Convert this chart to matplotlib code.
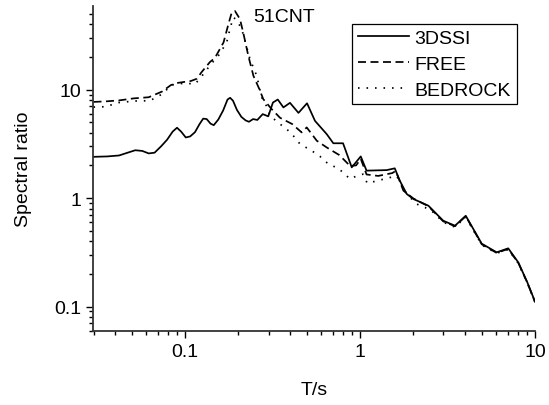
import matplotlib
matplotlib.use("Agg")
import matplotlib.pyplot as plt
from matplotlib.ticker import LogLocator, FixedLocator, FixedFormatter, NullFormatter

plt.rcParams['font.family'] = ['Liberation Sans', 'DejaVu Sans']

# spectral ratio for site 51CNT
T_ssi = [0.030, 0.036, 0.042, 0.047, 0.052, 0.057, 0.062, 0.067, 0.073, 0.079,
         0.085, 0.090, 0.095, 0.101, 0.107, 0.114, 0.121, 0.127, 0.133, 0.140,
         0.146, 0.155, 0.165, 0.175, 0.181, 0.188, 0.198, 0.210, 0.222, 0.232,
         0.245, 0.259, 0.278, 0.299, 0.318, 0.339, 0.365, 0.398, 0.445, 0.498,
         0.553, 0.645, 0.704, 0.800, 0.897, 1.01, 1.09, 1.42, 1.58, 1.69,
         1.85, 2.02, 2.46, 2.99, 3.49, 4.02, 4.96, 6.04, 7.03, 8.03,
         9.04, 10.0]
R_ssi = [2.40, 2.42, 2.47, 2.62, 2.76, 2.72, 2.58, 2.62, 3.00, 3.45,
         4.10, 4.45, 4.10, 3.62, 3.70, 4.05, 4.80, 5.40, 5.35, 4.85,
         4.70, 5.30, 6.40, 8.10, 8.40, 7.90, 6.50, 5.60, 5.20, 5.05,
         5.35, 5.25, 5.94, 5.67, 7.60, 8.10, 6.85, 7.55, 6.10, 7.48,
         5.15, 3.89, 3.20, 3.20, 1.92, 2.42, 1.79, 1.81, 1.88, 1.44,
         1.09, 0.98, 0.85, 0.618, 0.556, 0.687, 0.380, 0.316, 0.344, 0.255,
         0.167, 0.111]

T_free = [0.030, 0.035, 0.042, 0.051, 0.062, 0.074, 0.083, 0.090, 0.100, 0.108,
          0.117, 0.124, 0.139, 0.148, 0.166, 0.177, 0.185, 0.193, 0.206, 0.215,
          0.230, 0.246, 0.266, 0.280, 0.313, 0.349, 0.410, 0.464, 0.496, 0.530,
          0.566, 0.645, 0.762, 0.877, 0.950, 1.01, 1.09, 1.27, 1.53, 1.60,
          1.77, 2.02, 2.46, 2.99, 3.49, 4.02, 4.96, 6.04, 7.03, 8.03,
          9.04, 10.0]
R_free = [7.70, 7.78, 7.95, 8.30, 8.50, 9.60, 11.0, 11.5, 11.8, 12.0,
          12.6, 14.4, 18.0, 19.5, 27.2, 40.1, 51.5, 53.0, 44.7, 33.7,
          20.5, 13.4, 10.1, 8.17, 6.60, 5.50, 4.81, 4.03, 4.48, 3.89,
          3.38, 2.93, 2.49, 1.98, 2.00, 2.30, 1.65, 1.60, 1.70, 1.78,
          1.17, 0.99, 0.84, 0.61, 0.55, 0.68, 0.375, 0.312, 0.340, 0.252,
          0.166, 0.110]

T_rock = [0.030, 0.035, 0.042, 0.052, 0.063, 0.075, 0.083, 0.100, 0.114, 0.126,
          0.140, 0.155, 0.173, 0.182, 0.189, 0.197, 0.211, 0.235, 0.257, 0.274,
          0.293, 0.306, 0.349, 0.381, 0.416, 0.454, 0.530, 0.591, 0.659, 0.752,
          0.877, 0.957, 1.04, 1.10, 1.25, 1.42, 1.62, 1.69, 1.85, 2.11,
          2.35, 2.62, 2.99, 3.34, 3.49, 4.02, 4.96, 6.04, 7.03, 8.03,
          9.04, 10.0]
R_rock = [6.90, 6.95, 7.60, 7.85, 7.90, 9.20, 11.0, 11.5, 11.2, 13.6,
          17.0, 20.5, 27.2, 38.0, 46.3, 44.0, 36.1, 19.1, 13.4, 8.50,
          7.00, 5.74, 4.81, 4.33, 3.75, 3.15, 2.73, 2.42, 2.06, 1.88,
          1.50, 1.60, 1.66, 1.37, 1.44, 1.52, 1.60, 1.40, 1.09, 0.88,
          0.82, 0.74, 0.60, 0.555, 0.54, 0.67, 0.37, 0.31, 0.335, 0.25,
          0.165, 0.110]

labels = ['3DSSI', 'FREE', 'BEDROCK']
tick_vals = [0.1, 1, 10]
tick_text = ['0.1', '1', '10']

fig = plt.figure(figsize=(5.49, 4.06), dpi=100)
ax = fig.add_axes([0.1694, 0.1823, 0.8051, 0.8005])

lw = 1.25
ax.plot(T_ssi, R_ssi, color='black', lw=lw, ls='-', label=labels[0])
ax.plot(T_free, R_free, color='black', lw=lw, ls=(0, (4.6, 2.6)), label=labels[1])
ax.plot(T_rock, R_rock, color='black', lw=lw, ls=(0, (0.9, 4.0)), label=labels[2])

ax.set_xscale('log')
ax.set_yscale('log')
ax.set_xlim(0.0298, 10)
ax.set_ylim(0.0595, 59)

for a in (ax.xaxis, ax.yaxis):
    a.set_major_locator(FixedLocator(tick_vals))
    a.set_major_formatter(FixedFormatter(tick_text))
    a.set_minor_locator(LogLocator(base=10, subs=range(2, 10), numticks=20))
    a.set_minor_formatter(NullFormatter())

ax.tick_params(which='major', direction='out', length=5, width=1.0, labelsize=14, colors='black')
ax.tick_params(which='minor', direction='out', length=3, width=1.0)
ax.spines['top'].set_visible(False)
ax.spines['right'].set_visible(False)
for s in ('left', 'bottom'):
    ax.spines[s].set_linewidth(1.3)
    ax.spines[s].set_color('#333333')

ax.set_xlabel('T/s', fontsize=14, labelpad=15)
ax.set_ylabel('Spectral ratio', fontsize=14, labelpad=16)

ax.text(0.362, 0.969, '51CNT', transform=ax.transAxes, fontsize=14, va='center', ha='left')

leg = ax.legend(loc='upper right', bbox_to_anchor=(0.9586, 0.946), borderaxespad=0,
                fontsize=14, frameon=True, fancybox=False, edgecolor='black', framealpha=1,
                handlelength=2.6, handletextpad=0.3, labelspacing=0.42, borderpad=0.3)
leg.get_frame().set_linewidth(0.9)

fig.savefig('out.png', dpi=100)
